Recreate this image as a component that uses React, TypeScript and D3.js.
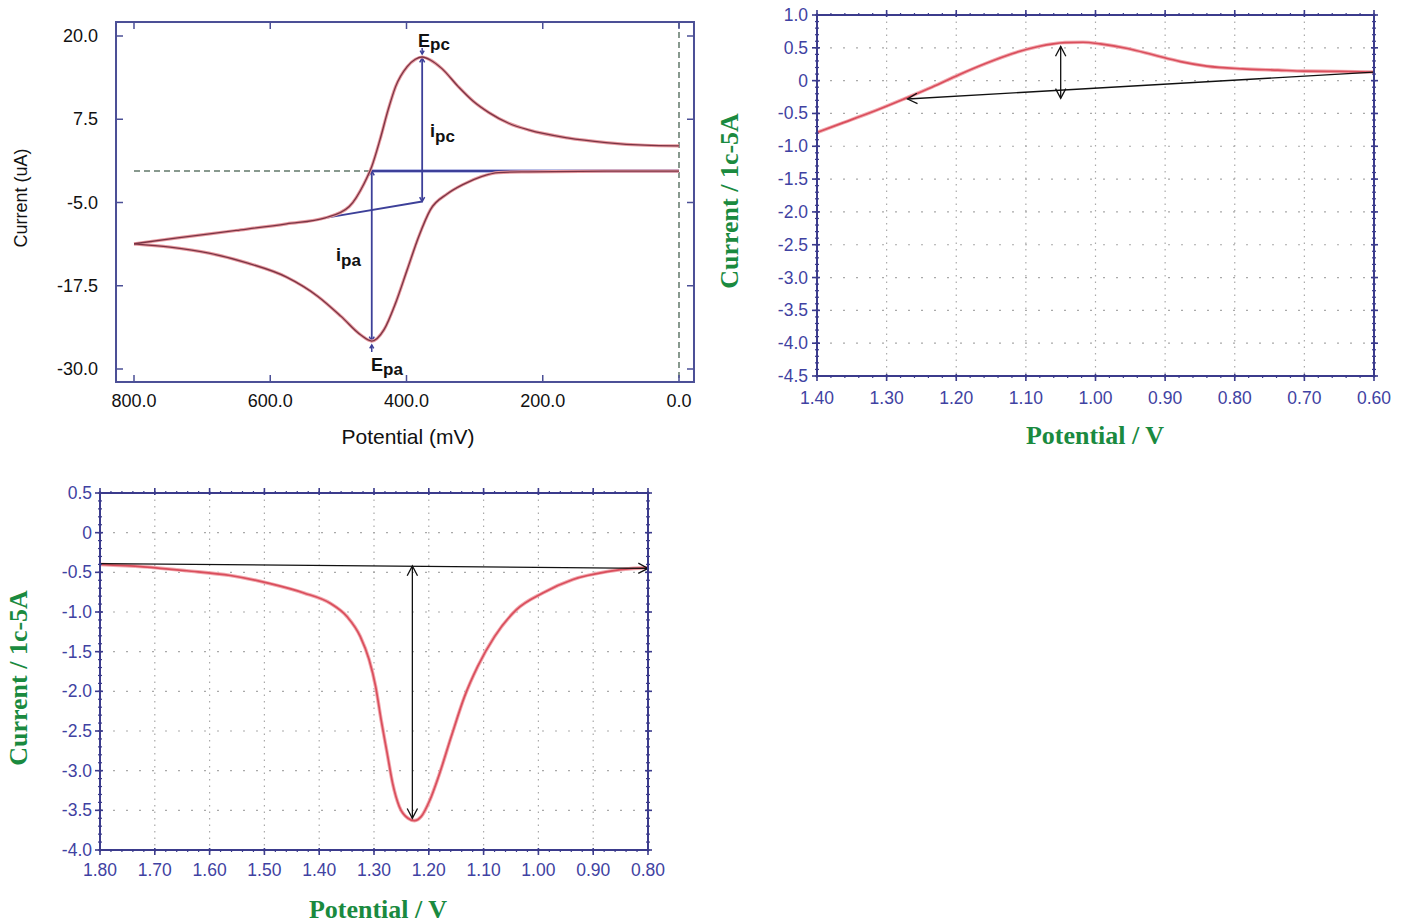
import React from "react";
import * as d3 from "d3";

// ---- chart 1 : cyclic voltammogram (mV / uA) ----
const cvTicksX = [800, 600, 400, 200, 0];
const cvTicksY = [20, 7.5, -5, -17.5, -30];

const cvUpperMv = [800, 736, 650, 576, 519, 484, 462, 451, 439, 427, 416, 399, 387, 377, 365, 348, 324, 302, 279, 250, 221, 164, 107, 50, 0];
const cvUpperUa = [-11.2, -10.3, -9.2, -8.2, -7.3, -5.6, -2.1, 0.4, 4.4, 8.9, 12.4, 15.4, 16.5, 16.85, 16.4, 15.1, 12.4, 10.2, 8.5, 6.9, 5.9, 4.7, 4.0, 3.6, 3.5];
const cvLowerMv = [0, 107, 221, 265, 290, 315, 340, 365, 382, 399, 416, 433, 451, 467, 496, 530, 576, 633, 690, 747, 800];
const cvLowerUa = [-0.3, -0.3, -0.4, -0.5, -1.1, -2.2, -3.7, -6.1, -10.1, -15.1, -20.1, -24.1, -25.8, -24.9, -22.1, -19.1, -16.2, -14.1, -12.6, -11.7, -11.2];

const cvEpc = [377, 16.85];
const cvEpa = [451, -25.8];
const cvBaseline = -0.27;
const cvSlopeStart = [519, -7.3];
const cvSlopeEnd = [377, -4.85];

// ---- chart 2 : oxidation sweep ----
const oxTicksX = [1.4, 1.3, 1.2, 1.1, 1.0, 0.9, 0.8, 0.7, 0.6];
const oxTicksY = [1.0, 0.5, 0, -0.5, -1.0, -1.5, -2.0, -2.5, -3.0, -3.5, -4.0, -4.5];
const oxPotential = [1.4, 1.362, 1.324, 1.273, 1.235, 1.196, 1.158, 1.12, 1.082, 1.044, 1.018, 0.993, 0.954, 0.916, 0.878, 0.84, 0.789, 0.738, 0.7, 0.649, 0.6];
const oxCurrent = [-0.79, -0.64, -0.49, -0.27, -0.1, 0.09, 0.26, 0.41, 0.52, 0.58, 0.585, 0.56, 0.49, 0.39, 0.29, 0.22, 0.18, 0.16, 0.145, 0.14, 0.13];
const oxBaseline = [[1.27, -0.28], [0.6, 0.13]];
const oxPeakArrow = [1.05, 0.52, -0.27];

// ---- chart 3 : reduction sweep ----
const redTicksX = [1.8, 1.7, 1.6, 1.5, 1.4, 1.3, 1.2, 1.1, 1.0, 0.9, 0.8];
const redTicksY = [0.5, 0, -0.5, -1.0, -1.5, -2.0, -2.5, -3.0, -3.5, -4.0];
const redPotential = [1.8, 1.721, 1.642, 1.562, 1.491, 1.428, 1.38, 1.349, 1.325, 1.309, 1.297, 1.287, 1.276, 1.266, 1.254, 1.238, 1.226, 1.214, 1.198, 1.182, 1.159, 1.135, 1.111, 1.08, 1.04, 0.992, 0.937, 0.874, 0.826, 0.8];
const redCurrent = [-0.4, -0.43, -0.48, -0.54, -0.64, -0.76, -0.89, -1.06, -1.31, -1.6, -1.94, -2.36, -2.78, -3.16, -3.45, -3.6, -3.63, -3.58, -3.37, -3.07, -2.57, -2.07, -1.69, -1.31, -0.97, -0.76, -0.59, -0.49, -0.45, -0.44];
const redBaseline = [[1.8, -0.39], [0.8, -0.45]];
const redPeakArrow = [1.23, -0.42, -3.6];

const NAVY = "#3d4099";
const FRAME = "#3b3b8c";
const TICK_TXT = "#3f42a2";
const GREEN = "#1a8a3f";
const SANS = "'Liberation Sans', Arial, sans-serif";
const SERIF = "'Liberation Serif', 'Times New Roman', serif";

// points sorted by x so the monotone curve can be used
const zip = (a: number[], b: number[]) =>
  a.map((v, i) => [v, b[i]] as [number, number]).sort((p, q) => p[0] - q[0]);

// open arrow head, tip at (x,y), pointing along angle (deg)
const chevron = (x: number, y: number, angleDeg: number, size: number, spread = 30) => {
  const a = (angleDeg * Math.PI) / 180;
  const s = (spread * Math.PI) / 180;
  const p1 = [x - size * Math.cos(a - s), y - size * Math.sin(a - s)];
  const p2 = [x - size * Math.cos(a + s), y - size * Math.sin(a + s)];
  return `M${p1[0]},${p1[1]}L${x},${y}L${p2[0]},${p2[1]}`;
};

const CvChart = () => {
  const x = d3.scaleLinear().domain([800, 0]).range([134, 679]);
  const y = d3.scaleLinear().domain([20, -30]).range([36, 369]);
  const fx0 = x(826.4), fx1 = x(-22), fy0 = y(22.1), fy1 = y(-31.95);

  const line = d3
    .line<[number, number]>()
    .x((d) => x(d[0]))
    .y((d) => y(d[1]))
    .curve(d3.curveMonotoneX);
  const upper = line(zip(cvUpperMv, cvUpperUa)) || "";
  const lower = line(zip(cvLowerMv, cvLowerUa)) || "";

  const ex = x(cvEpc[0]);
  const ax = x(cvEpa[0]);
  const by = y(cvBaseline);

  return (
    <g>
      {/* dashed guides */}
      <line x1={x(800)} x2={ax} y1={by} y2={by} stroke="#62786a" strokeWidth={1.5} strokeDasharray="6,4" />
      <line x1={x(0)} x2={x(0)} y1={fy0} y2={fy1} stroke="#62786a" strokeWidth={1.5} strokeDasharray="6,4" />

      {/* annotation lines */}
      <line x1={ax} x2={x(0)} y1={by} y2={by} stroke="#b9bde6" strokeWidth={4} />
      <line x1={ax} x2={x(0)} y1={by} y2={by} stroke={NAVY} strokeWidth={1.8} />
      <line x1={x(cvSlopeStart[0])} y1={y(cvSlopeStart[1])} x2={x(cvSlopeEnd[0])} y2={y(cvSlopeEnd[1])} stroke={NAVY} strokeWidth={1.8} />
      <line x1={ex} x2={ex} y1={y(cvEpc[1]) + 1} y2={y(cvSlopeEnd[1])} stroke={NAVY} strokeWidth={1.8} />
      <line x1={ax} x2={ax} y1={by} y2={y(cvEpa[1])} stroke={NAVY} strokeWidth={1.8} />
      <g fill="none" stroke={NAVY} strokeWidth={1.5}>
        <path d={chevron(ex, y(cvEpc[1]) + 1, -90, 5)} />
        <path d={chevron(ex, y(cvSlopeEnd[1]), 90, 5)} />
        <path d={chevron(ax, by, -90, 5)} />
        <path d={chevron(ax, y(cvEpa[1]), 90, 5)} />
        <line x1={ex} x2={ex} y1={y(cvEpc[1]) - 9} y2={y(cvEpc[1]) - 3} />
        <path d={chevron(ex, y(cvEpc[1]) - 3, 90, 4)} />
        <line x1={ax} x2={ax} y1={y(cvEpa[1]) + 11} y2={y(cvEpa[1]) + 4} />
        <path d={chevron(ax, y(cvEpa[1]) + 4, -90, 4)} />
      </g>

      {/* trace */}
      <g fill="none">
        <path d={upper} stroke="#e79aa0" strokeWidth={3.2} />
        <path d={lower} stroke="#e79aa0" strokeWidth={3.2} />
        <path d={upper} stroke="#7b3444" strokeWidth={1.3} />
        <path d={lower} stroke="#7b3444" strokeWidth={1.3} />
      </g>

      {/* frame */}
      <rect x={fx0} y={fy0} width={fx1 - fx0} height={fy1 - fy0} fill="none" stroke="#4b4f96" strokeWidth={2} />
      <g stroke="#4b4f96" strokeWidth={1.5}>
        {cvTicksY.map((t) => (
          <g key={"cy" + t}>
            <line x1={fx0} x2={fx0 + 7} y1={y(t)} y2={y(t)} />
            <line x1={fx1} x2={fx1 - 7} y1={y(t)} y2={y(t)} />
          </g>
        ))}
        {cvTicksX.map((t) => (
          <g key={"cx" + t}>
            <line x1={x(t)} x2={x(t)} y1={fy0} y2={fy0 + 7} />
            <line x1={x(t)} x2={x(t)} y1={fy1} y2={fy1 - 7} />
          </g>
        ))}
      </g>

      <g fontFamily={SANS} fontSize={18} fill="#111">
        {cvTicksY.map((t) => (
          <text key={"ly" + t} x={98} y={y(t) + 6} textAnchor="end">
            {t.toFixed(1)}
          </text>
        ))}
        {cvTicksX.map((t) => (
          <text key={"lx" + t} x={x(t)} y={407} textAnchor="middle">
            {t.toFixed(1)}
          </text>
        ))}
        <text x={408} y={444} textAnchor="middle" fontSize={21}>
          Potential (mV)
        </text>
        <text transform="translate(27,198) rotate(-90)" textAnchor="middle">
          Current (uA)
        </text>
      </g>

      <g fontFamily={SANS} fontWeight="bold" fontSize={18} fill="#111">
        <text x={418} y={47}>
          E<tspan fontSize={17} dy={3}>pc</tspan>
        </text>
        <text x={430} y={137}>
          i<tspan fontSize={17} dy={5}>pc</tspan>
        </text>
        <text x={336} y={261}>
          i<tspan fontSize={17} dy={5}>pa</tspan>
        </text>
        <text x={371} y={371}>
          E<tspan fontSize={17} dy={4}>pa</tspan>
        </text>
      </g>
    </g>
  );
};

type SweepProps = {
  box: [number, number, number, number];
  xDom: [number, number];
  yDom: [number, number];
  xTicks: number[];
  yTicks: number[];
  potential: number[];
  current: number[];
  baseline: number[][];
  arrowAtEnd: boolean;
  peak: number[];
  yLabelRight: number;
  xLabelY: number;
  xTitle: [number, number];
  yTitle: [number, number];
};

const SweepChart = (p: SweepProps) => {
  const [left, top, right, bottom] = p.box;
  const x = d3.scaleLinear().domain(p.xDom).range([left, right]);
  const y = d3.scaleLinear().domain(p.yDom).range([top, bottom]);
  const line = d3
    .line<[number, number]>()
    .x((d) => x(d[0]))
    .y((d) => y(d[1]))
    .curve(d3.curveMonotoneX);
  const trace = line(zip(p.potential, p.current)) || "";

  const xMinor = d3.range(Math.round(p.xDom[1] * 50), Math.round(p.xDom[0] * 50) + 1).map((v) => v / 50);
  const yMinor = d3.range(Math.round(p.yDom[1] * 10), Math.round(p.yDom[0] * 10) + 1).map((v) => v / 10);
  const fmtY = (t: number) => (t === 0 ? "0" : t.toFixed(1));

  const b0 = [x(p.baseline[0][0]), y(p.baseline[0][1])];
  const b1 = [x(p.baseline[1][0]), y(p.baseline[1][1])];
  const bAngle = (Math.atan2(b1[1] - b0[1], b1[0] - b0[0]) * 180) / Math.PI;
  const px = x(p.peak[0]);

  return (
    <g>
      {/* dotted grid */}
      <g stroke="#a9a9a9" strokeWidth={1.2}>
        {p.xTicks.slice(1, -1).map((t) => (
          <line key={"gx" + t} x1={x(t)} x2={x(t)} y1={top} y2={bottom} strokeDasharray="1.5,5" />
        ))}
        {p.yTicks.slice(1, -1).map((t) => (
          <line key={"gy" + t} x1={left} x2={right} y1={y(t)} y2={y(t)} strokeDasharray="2,11" />
        ))}
      </g>

      {/* trace */}
      <path d={trace} fill="none" stroke="#f2aab0" strokeWidth={3.6} />
      <path d={trace} fill="none" stroke="#d94e5c" strokeWidth={1.7} />

      {/* baseline + peak height arrow */}
      <g fill="none" stroke="#111" strokeWidth={1.3}>
        <line x1={b0[0]} y1={b0[1]} x2={b1[0]} y2={b1[1]} />
        {p.arrowAtEnd ? (
          <path d={chevron(b1[0], b1[1], bAngle, 11, 28)} />
        ) : (
          <path d={chevron(b0[0], b0[1], bAngle + 180, 11, 28)} />
        )}
        <line x1={px} x2={px} y1={y(p.peak[1])} y2={y(p.peak[2])} />
        <path d={chevron(px, y(p.peak[1]), -90, 11, 28)} />
        <path d={chevron(px, y(p.peak[2]), 90, 11, 28)} />
      </g>

      {/* frame */}
      <rect x={left} y={top} width={right - left} height={bottom - top} fill="none" stroke={FRAME} strokeWidth={2} />
      <g stroke={FRAME} strokeWidth={1.2}>
        {xMinor.map((t) => (
          <g key={"mx" + t}>
            <line x1={x(t)} x2={x(t)} y1={top - 2} y2={top + 1} />
            <line x1={x(t)} x2={x(t)} y1={bottom - 1} y2={bottom + 2} />
          </g>
        ))}
        {yMinor.map((t) => (
          <g key={"my" + t}>
            <line x1={left - 2} x2={left + 2} y1={y(t)} y2={y(t)} />
            <line x1={right - 2} x2={right + 2} y1={y(t)} y2={y(t)} />
          </g>
        ))}
        {p.xTicks.map((t) => (
          <g key={"tx" + t} strokeWidth={1.6}>
            <line x1={x(t)} x2={x(t)} y1={top - 5} y2={top + 2} />
            <line x1={x(t)} x2={x(t)} y1={bottom - 2} y2={bottom + 5} />
          </g>
        ))}
        {p.yTicks.map((t) => (
          <g key={"ty" + t} strokeWidth={1.6}>
            <line x1={left - 5} x2={left + 3} y1={y(t)} y2={y(t)} />
            <line x1={right - 3} x2={right + 4} y1={y(t)} y2={y(t)} />
          </g>
        ))}
      </g>

      <g fontFamily={SANS} fontSize={17.5} fill={TICK_TXT}>
        {p.yTicks.map((t) => (
          <text key={"ly" + t} x={p.yLabelRight} y={y(t) + 6} textAnchor="end">
            {fmtY(t)}
          </text>
        ))}
        {p.xTicks.map((t) => (
          <text key={"lx" + t} x={x(t)} y={p.xLabelY} textAnchor="middle">
            {t.toFixed(2)}
          </text>
        ))}
      </g>

      <g fontFamily={SERIF} fontWeight="bold" fontSize={26} fill={GREEN}>
        <text x={p.xTitle[0]} y={p.xTitle[1]} textAnchor="middle">
          Potential / V
        </text>
        <text transform={`translate(${p.yTitle[0]},${p.yTitle[1]}) rotate(-90)`} textAnchor="middle">
          Current / 1c-5A
        </text>
      </g>
    </g>
  );
};

export default function App() {
  return (
    <svg
      width={1406}
      height={923}
      style={{ position: "absolute", left: 0, top: 0, background: "#fff" }}
    >
      <CvChart />
      <SweepChart
        box={[817, 15, 1374, 376]}
        xDom={[1.4, 0.6]}
        yDom={[1.0, -4.5]}
        xTicks={oxTicksX}
        yTicks={oxTicksY}
        potential={oxPotential}
        current={oxCurrent}
        baseline={oxBaseline}
        arrowAtEnd={false}
        peak={oxPeakArrow}
        yLabelRight={808}
        xLabelY={404}
        xTitle={[1095, 444]}
        yTitle={[738, 201]}
      />
      <SweepChart
        box={[100, 493, 648, 850]}
        xDom={[1.8, 0.8]}
        yDom={[0.5, -4.0]}
        xTicks={redTicksX}
        yTicks={redTicksY}
        potential={redPotential}
        current={redCurrent}
        baseline={redBaseline}
        arrowAtEnd={true}
        peak={redPeakArrow}
        yLabelRight={92}
        xLabelY={876}
        xTitle={[378, 918]}
        yTitle={[27, 678]}
      />
    </svg>
  );
}
